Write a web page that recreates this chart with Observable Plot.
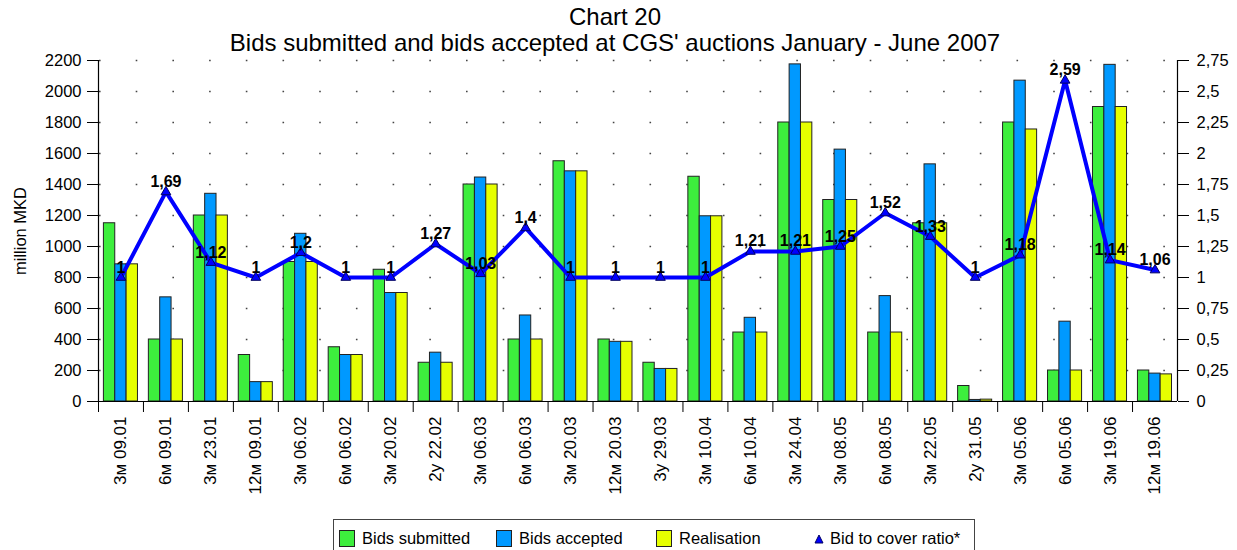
<!DOCTYPE html>
<html>
<head>
<meta charset="utf-8">
<script src="https://cdn.jsdelivr.net/npm/d3@7"></script>
<script src="https://cdn.jsdelivr.net/npm/@observablehq/plot@0.6"></script>
<style>
  html, body { margin: 0; padding: 0; background: #fff; }
  body { width: 1237px; height: 550px; overflow: hidden; font-family: "Liberation Sans", Arial, sans-serif; }
  #title { position: relative; height: 52px; width: 1230px; text-align: center; font-size: 24px; color: #000; }
  #title div { position: absolute; left: 0; right: 0; line-height: 26px; }
  #chart svg { display: block; }
  #legend { position: relative; height: 36px; }
  #legend .box { position: absolute; left: 333px; top: 5px; width: 642px; height: 40px; border: 1px solid #444; box-sizing: border-box; }
  #legend .sw { position: absolute; top: 10px; width: 16px; height: 17px; border: 1px solid #222; box-sizing: border-box; }
  #legend .lb { position: absolute; top: 8px; font-size: 16.5px; line-height: 20px; color: #000; white-space: nowrap; }
</style>
</head>
<body>
<div id="title">
  <div style="top:4px">Chart 20</div>
  <div style="top:30px">Bids submitted and bids accepted at CGS' auctions January - June 2007</div>
</div>
<div id="chart"></div>
<div id="legend"><div class="box" id="lbox"></div></div>
<script>
// ---- data ----
const categories = ["3м 09.01","6м 09.01","3м 23.01","12м 09.01","3м 06.02","6м 06.02","3м 20.02","2у 22.02","3м 06.03","6м 06.03","3м 20.03","12м 20.03","3у 29.03","3м 10.04","6м 10.04","3м 24.04","3м 08.05","6м 08.05","3м 22.05","2у 31.05","3м 05.06","6м 05.06","3м 19.06","12м 19.06"];
const bidsSubmitted = [1150,400,1200,300,900,350,850,250,1400,400,1550,400,250,1450,445,1800,1300,445,1150,100,1800,200,1900,200];
const bidsAccepted  = [885,672,1340,125,1082,300,700,315,1445,555,1485,385,210,1195,540,2175,1625,680,1530,10,2070,515,2172,180];
const realisation   = [885,400,1200,125,900,300,700,250,1400,400,1485,385,210,1195,445,1800,1300,445,1150,12,1755,200,1900,175];
const bidToCover    = [1,1.69,1.12,1,1.2,1,1,1.27,1.03,1.4,1,1,1,1,1.21,1.21,1.25,1.52,1.33,1,1.18,2.59,1.14,1.06];
const leftTicks  = [0,200,400,600,800,1000,1200,1400,1600,1800,2000,2200];
const rightMax = 2.75;
const seriesNames = ["Bids submitted","Bids accepted","Realisation","Bid to cover ratio*"];
const seriesColors = ["#3DEE3D","#0099FF","#E6FF00","#0000FF"];

// ---- layout ----
const FONT = '"Liberation Sans", Arial, sans-serif';
const W = 1237, H = 462, mL = 98, mR = 60, mT = 8, mB = 113;
const leftMax = leftTicks[leftTicks.length - 1];
const k = leftMax / rightMax; // ratio -> left scale units
const step = (W - mL - mR) / categories.length;
const gap = 5.4, bw = 11.35;
const fmt = v => String(+v.toFixed(2)).replace(".", ",");

const rows = categories.map((c, i) => ({
  cat: c, sub: bidsSubmitted[i], acc: bidsAccepted[i], real: realisation[i], ratio: bidToCover[i]
}));

const barOpts = (field, j) => ({
  x: "cat", y: field, fill: seriesColors[j], stroke: "#222", strokeWidth: 1,
  insetLeft: gap + j * bw, insetRight: step - gap - (j + 1) * bw
});

const chart = Plot.plot({
  width: W, height: H,
  marginLeft: mL, marginRight: mR, marginTop: mT, marginBottom: mB,
  style: {fontFamily: FONT, fontSize: "16px", color: "#000", background: "#fff", overflow: "visible"},
  x: {type: "band", domain: categories, padding: 0, round: false},
  y: {domain: [0, leftMax]},
  marks: [
    Plot.ruleY(leftTicks.filter(t => t > 0), {stroke: "#444", strokeWidth: 1.6, strokeDasharray: "1.6,35.1", strokeDashoffset: -1}),
    Plot.barY(rows, barOpts("sub", 0)),
    Plot.barY(rows, barOpts("acc", 1)),
    Plot.barY(rows, barOpts("real", 2)),
    Plot.ruleY([0], {stroke: "#000", strokeWidth: 1.2}),
    Plot.ruleX([categories[0]], {x: d => d, y1: 0, y2: leftMax, dx: -step / 2, stroke: "#000", strokeWidth: 1.2}),
    Plot.ruleX([categories[categories.length - 1]], {x: d => d, y1: 0, y2: leftMax, dx: step / 2, stroke: "#000", strokeWidth: 1.2}),
    Plot.ruleX(categories, {x: d => d, y1: 0, y2: 0, insetBottom: -11, dx: -step / 2, stroke: "#000", strokeWidth: 1}),
    Plot.axisY({anchor: "left", ticks: leftTicks, tickSize: 11, tickPadding: 6, fontSize: 16.5,
      tickFormat: d => String(d),
      label: "million MKD", labelAnchor: "center", labelOffset: 84, labelArrow: "none"}),
    Plot.axisY({anchor: "right", ticks: leftTicks, tickSize: 11, tickPadding: 8, fontSize: 16.5,
      tickFormat: d => fmt(d / k), label: null}),
    Plot.axisX({tickSize: 0, tickRotate: -90, tickPadding: 15, fontSize: 17, label: null}),
    Plot.lineY(rows, {x: "cat", y: d => d.ratio * k, stroke: seriesColors[3], strokeWidth: 4}),
    Plot.dot(rows, {x: "cat", y: d => d.ratio * k, symbol: "triangle", r: 3.6, fill: "#0000FF", stroke: "#000060", strokeWidth: 1}),
    Plot.text(rows, {x: "cat", y: d => d.ratio * k, text: d => fmt(d.ratio), dy: -5, lineAnchor: "bottom",
      fontWeight: "bold", fontSize: 16, fill: "#000"})
  ]
});
document.getElementById("chart").appendChild(chart);
// enforce axis tick label sizes
d3.select(chart).selectAll('g[aria-label="y-axis tick label"] text').style("font-size", "16.5px");
d3.select(chart).selectAll('g[aria-label="x-axis tick label"] text').style("font-size", "17px");

// ---- legend ----
const lbox = document.getElementById("lbox");
const swX = [5, 162, 322], lbX = [28, 185, 345];
seriesNames.slice(0, 3).forEach((name, j) => {
  const s = document.createElement("div");
  s.className = "sw"; s.style.left = swX[j] + "px"; s.style.background = seriesColors[j];
  lbox.appendChild(s);
  const t = document.createElement("div");
  t.className = "lb"; t.style.left = lbX[j] + "px"; t.textContent = name;
  lbox.appendChild(t);
});
const tri = document.createElementNS("http://www.w3.org/2000/svg", "svg");
tri.setAttribute("width", "10"); tri.setAttribute("height", "10");
tri.style.position = "absolute"; tri.style.left = "480px"; tri.style.top = "14px";
tri.innerHTML = '<polygon points="5,1 9,9 1,9" fill="#0000FF" stroke="#000060" stroke-width="1"/>';
lbox.appendChild(tri);
const tl = document.createElement("div");
tl.className = "lb"; tl.style.left = "496px"; tl.textContent = seriesNames[3];
lbox.appendChild(tl);
</script>
</body>
</html>
